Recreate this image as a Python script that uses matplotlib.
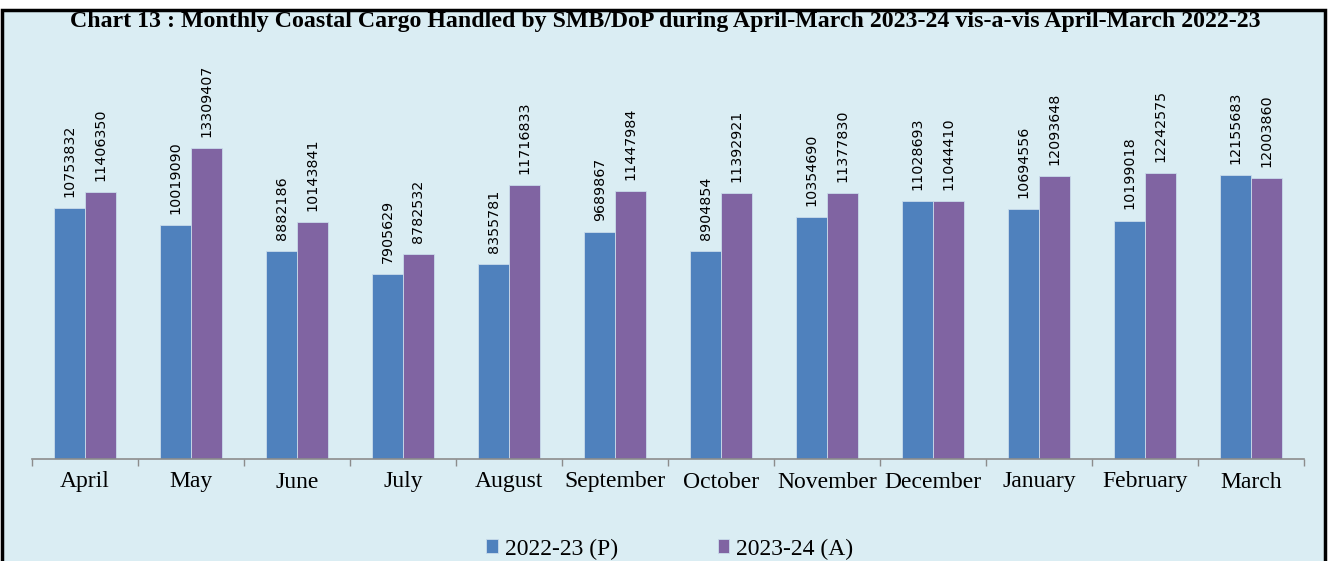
import matplotlib.pyplot as plt
import numpy as np
from matplotlib import font_manager
from matplotlib.patches import Rectangle

months = ["April", "May", "June", "July", "August", "September", "October",
          "November", "December", "January", "February", "March"]
cargo_2223 = [10753832, 10019090, 8882186, 7905629, 8355781, 9689867,
              8904854, 10354690, 11028693, 10694556, 10199018, 12155683]
cargo_2324 = [11406350, 13309407, 10143841, 8782532, 11716833, 11447984,
              11392921, 11377830, 11044410, 12093648, 12242575, 12003860]
series_labels = ["2022-23 (P)", "2023-24 (A)"]

bg = "#DAEDF3"
blue = "#4F81BD"
purple = "#8064A2"

# condensed face for the value labels if it is there
names = {f.name for f in font_manager.fontManager.ttflist}
if "Liberation Sans Narrow" in names:
    num_font, num_size = "Liberation Sans Narrow", 13
else:
    num_font, num_size = "DejaVu Sans", 10.3

fig = plt.figure(figsize=(13.3, 5.61), dpi=100)
fig.patch.set_facecolor("white")

# framed background box (bottom edge runs off the image)
fig.add_artist(Rectangle((1.5 / 1330, -0.05), 1323 / 1330, 0.05 + 551 / 561,
                         transform=fig.transFigure, facecolor=bg, edgecolor="black",
                         linewidth=2.5, zorder=-1))

fig.text(0.5, 1 - 21 / 561, "Chart 13 : Monthly Coastal Cargo Handled by SMB/DoP during "
         "April-March 2023-24 vis-a-vis April-March 2022-23",
         ha="center", va="center", fontsize=17.2, fontweight="bold",
         family="Liberation Serif")

ax = fig.add_axes([32 / 1330, 102 / 561, 1272 / 1330, 374 / 561])
ax.set_facecolor("none")

x = np.arange(len(months))
w = 0.29
b1 = ax.bar(x - w / 2, cargo_2223, w, color=blue, edgecolor="#C9DCEB", linewidth=0.6,
            label=series_labels[0])
b2 = ax.bar(x + w / 2, cargo_2324, w, color=purple, edgecolor="#C9DCEB", linewidth=0.6,
            label=series_labels[1])

for bars, vals in ((b1, cargo_2223), (b2, cargo_2324)):
    for rect, v in zip(bars, vals):
        ax.annotate(str(v), (rect.get_x() + rect.get_width() / 2, v),
                    xytext=(0, 8), textcoords="offset points",
                    rotation=90, ha="center", va="bottom", fontsize=num_size,
                    family=num_font)

ax.set_xlim(-0.5, len(months) - 0.5)
ax.set_ylim(0, 16000000)
ax.set_yticks([])
ax.set_xticks(x)
ax.set_xticklabels(months, family="Liberation Serif", fontsize=17)
ax.set_xticks(np.arange(len(months) + 1) - 0.5, minor=True)
ax.tick_params(axis="x", which="major", length=0, pad=9)
ax.tick_params(axis="x", which="minor", length=5, color="#8C8C8C", width=1)
for s in ["top", "right", "left"]:
    ax.spines[s].set_visible(False)
ax.spines["bottom"].set_color("#8C8C8C")
ax.spines["bottom"].set_linewidth(1.2)

leg = fig.legend(handles=[b1, b2], labels=series_labels, loc="center",
                 bbox_to_anchor=(0.5 + 5 / 1330, 1 - 549 / 561), ncol=2, frameon=False,
                 prop={"family": "Liberation Serif", "size": 17},
                 handlelength=0.5, handleheight=0.5, handletextpad=0.3, columnspacing=4.2)

plt.savefig("out.png", dpi=100, facecolor=fig.get_facecolor())
